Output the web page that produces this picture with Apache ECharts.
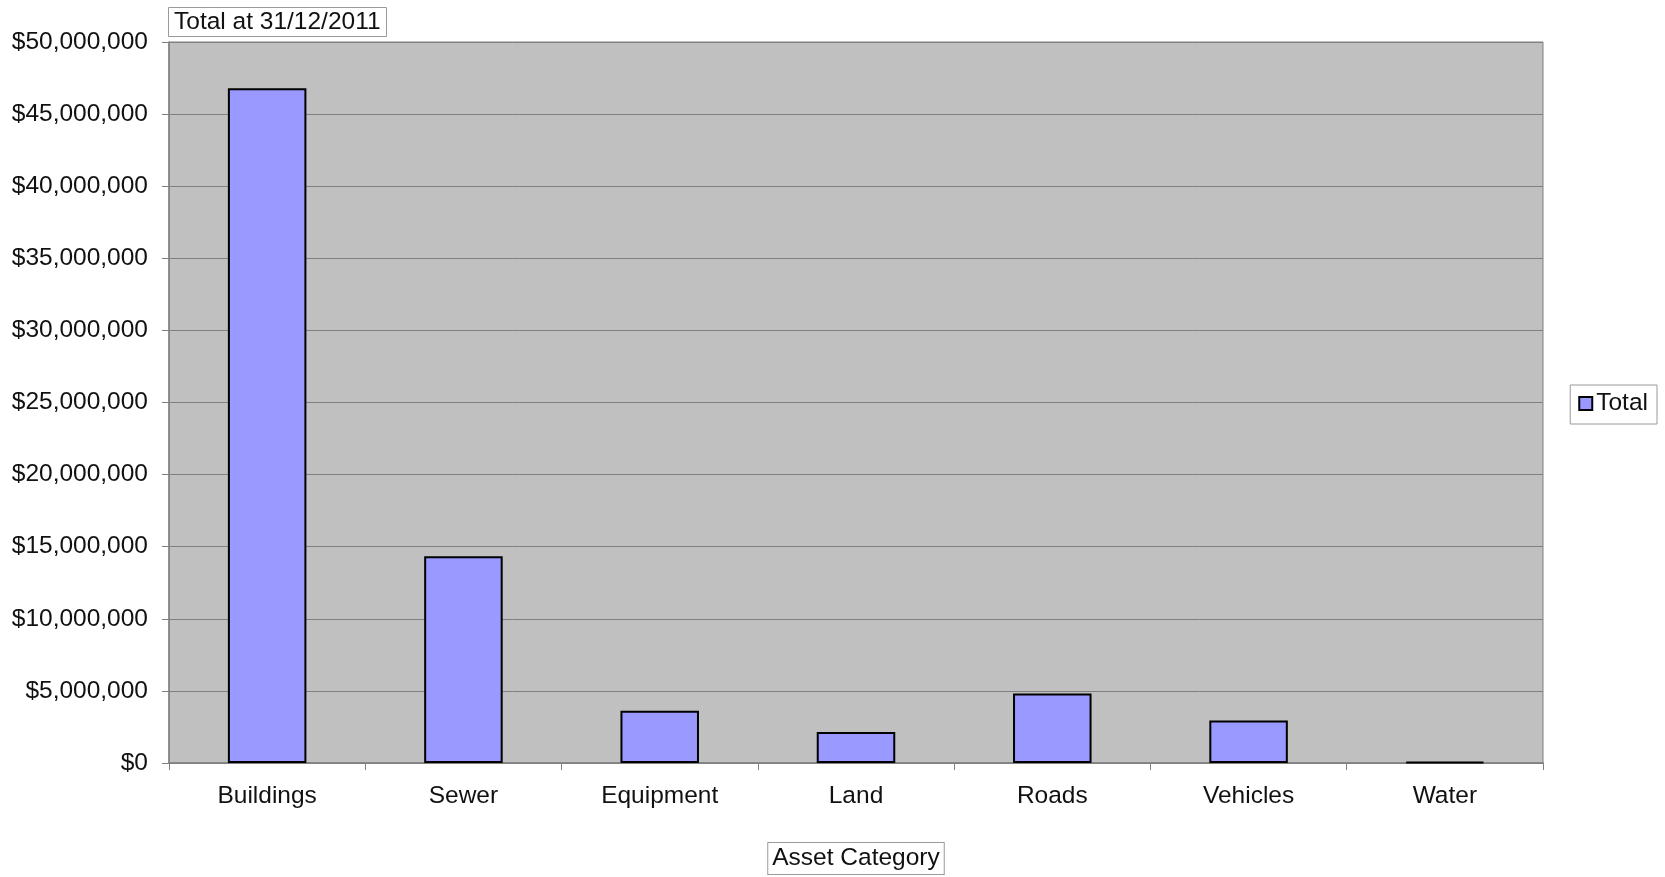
<!DOCTYPE html>
<html>
<head>
<meta charset="utf-8">
<script src="https://cdn.jsdelivr.net/npm/echarts@6/dist/echarts.min.js"></script>
<style>
  html, body { margin: 0; padding: 0; background: #ffffff; }
  #chart { width: 1665px; height: 877px; }
</style>
</head>
<body>
<div id="chart"></div>
<script>
// Asset categories and their totals at 31/12/2011
const categories = ['Buildings', 'Sewer', 'Equipment', 'Land', 'Roads', 'Vehicles', 'Water'];
const totals = [46800000, 14330000, 3620000, 2150000, 4820000, 2950000, 80000];
const seriesName = 'Total';
const chartTitle = 'Total at 31/12/2011';
const xAxisTitle = 'Asset Category';

const FONT = 'Liberation Sans, Arial, sans-serif';
const FS = 24.5;

function money(v) {
  return '$' + Math.round(v).toString().replace(/\B(?=(\d{3})+(?!\d))/g, ',');
}

const chart = echarts.init(document.getElementById('chart'), null, { renderer: 'canvas' });

chart.setOption({
  animation: false,
  backgroundColor: '#ffffff',
  title: {
    text: chartTitle,
    left: 168,
    top: 7,
    padding: [3, 6, 2, 6],
    borderColor: '#9a9a9a',
    borderWidth: 1,
    backgroundColor: '#ffffff',
    textStyle: { fontFamily: FONT, fontSize: FS, fontWeight: 'normal', color: '#111' }
  },
  legend: {
    data: [seriesName],
    right: 8,
    top: 385,
    orient: 'vertical',
    padding: [6, 9, 8, 8],
    borderColor: '#9a9a9a',
    borderWidth: 1,
    backgroundColor: '#ffffff',
    itemWidth: 13,
    itemHeight: 13,
    itemGap: 4,
    icon: 'rect',
    textStyle: { fontFamily: FONT, fontSize: FS, color: '#111', padding: [0, 0, 0, -1] }
  },
  grid: {
    left: 169,
    right: 122,
    top: 42,
    bottom: 114,
    show: true,
    backgroundColor: '#c0c0c0',
    borderColor: '#808080',
    borderWidth: 1,
    containLabel: false,
    outerBoundsMode: 'none'
  },
  xAxis: {
    type: 'category',
    data: categories,
    boundaryGap: true,
    axisLine: { show: true, lineStyle: { color: '#808080', width: 1.5 } },
    axisTick: { show: true, alignWithLabel: false, length: 7, lineStyle: { color: '#808080' } },
    axisLabel: { fontFamily: FONT, fontSize: FS, color: '#111', margin: 21 },
    name: xAxisTitle,
    nameLocation: 'middle',
    nameGap: 80,
    nameTextStyle: {
      fontFamily: FONT,
      fontSize: FS,
      color: '#111',
      verticalAlign: 'top',
      borderColor: '#9a9a9a',
      borderWidth: 1,
      backgroundColor: '#ffffff',
      padding: [3, 4, 3, 4]
    }
  },
  yAxis: {
    type: 'value',
    min: 0,
    max: 50000000,
    interval: 5000000,
    axisLine: { show: true, lineStyle: { color: '#808080', width: 1.5 } },
    axisTick: { show: true, length: 7, lineStyle: { color: '#808080' } },
    axisLabel: { fontFamily: FONT, fontSize: FS, color: '#111', margin: 21, formatter: money },
    splitLine: { show: true, lineStyle: { color: '#808080', width: 1 } }
  },
  series: [{
    name: seriesName,
    type: 'bar',
    data: totals,
    barWidth: '40%',
    itemStyle: { color: '#9999ff', borderColor: '#000000', borderWidth: 2 }
  }]
});
</script>
</body>
</html>
